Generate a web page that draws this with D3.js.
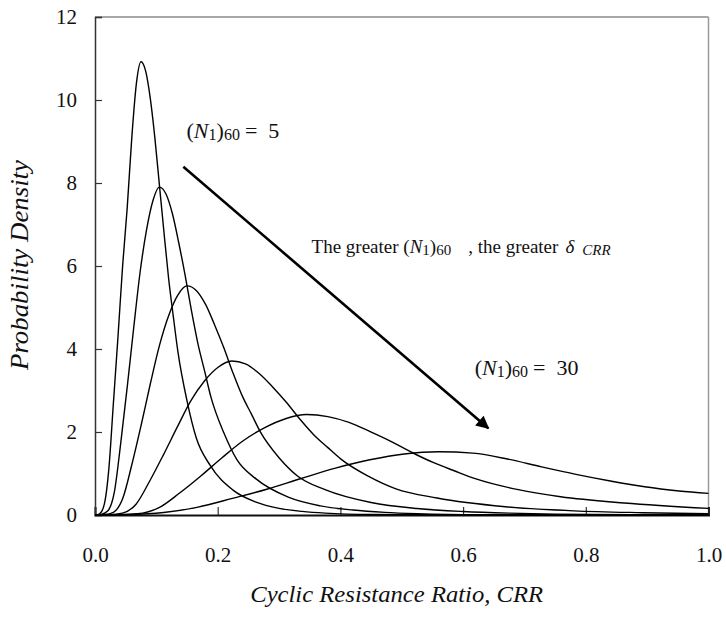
<!DOCTYPE html>
<html>
<head>
<meta charset="utf-8">
<script src="https://cdn.jsdelivr.net/npm/d3@7"></script>
<style>
  html, body { margin: 0; padding: 0; background: #fff; }
  svg { display: block; }
</style>
</head>
<body>
<svg id="chart" width="726" height="617"></svg>
<script>
// (N1)60 levels of the six density curves
const sptLevels = [5, 10, 15, 20, 25, 30];

// Probability density of CRR for each (N1)60 level: [CRR, density]
const pdfN5 = [[0,0],[0.0075,0.03],[0.015,0.25],[0.0225,1.1],[0.03,2.7],[0.0375,4.3],[0.045,6.0],[0.0525,7.4],[0.06,9.1],[0.0675,10.4],[0.075,10.92],[0.0825,10.7],[0.09,10.05],[0.0975,9.1],[0.105,7.95],[0.1125,6.8],[0.12,5.7],[0.1275,4.8],[0.135,3.95],[0.15,2.75],[0.165,1.86],[0.1875,1.2],[0.225,0.6],[0.2625,0.31],[0.3,0.16],[0.3375,0.087],[0.375,0.044],[0.45,0.011],[0.6,0.002],[1.0,0]];
const pdfN10 = [[0,0],[0.0105,0.016],[0.021,0.1],[0.0315,0.55],[0.042,1.74],[0.0525,3.08],[0.063,4.5],[0.0735,5.85],[0.084,6.87],[0.0945,7.58],[0.105,7.9],[0.1155,7.74],[0.126,7.27],[0.1365,6.56],[0.147,5.77],[0.1575,4.9],[0.168,4.11],[0.1785,3.48],[0.189,2.84],[0.21,1.98],[0.231,1.34],[0.2625,0.87],[0.315,0.43],[0.3675,0.22],[0.42,0.12],[0.4725,0.063],[0.525,0.032],[0.63,0.008],[1.0,0]];
const pdfN15 = [[0,0],[0.015,0.011],[0.03,0.066],[0.045,0.39],[0.06,1.21],[0.075,2.15],[0.09,3.15],[0.105,4.08],[0.12,4.8],[0.135,5.3],[0.15,5.52],[0.165,5.41],[0.18,5.08],[0.195,4.58],[0.21,4.03],[0.225,3.42],[0.24,2.87],[0.255,2.43],[0.27,1.99],[0.30,1.38],[0.33,0.94],[0.375,0.61],[0.45,0.30],[0.525,0.155],[0.60,0.083],[0.675,0.044],[0.75,0.022],[0.90,0.006],[1.0,0.002]];
const pdfN20 = [[0,0],[0.0223,0.007],[0.0446,0.045],[0.0669,0.26],[0.0892,0.82],[0.1115,1.45],[0.1338,2.11],[0.1561,2.75],[0.1784,3.23],[0.2007,3.56],[0.223,3.71],[0.2453,3.64],[0.2676,3.41],[0.2899,3.08],[0.3122,2.71],[0.3345,2.30],[0.3568,1.93],[0.3791,1.63],[0.4014,1.34],[0.446,0.93],[0.4906,0.63],[0.5575,0.41],[0.669,0.20],[0.7805,0.10],[0.892,0.056],[1.0,0.03]];
const pdfN25 = [[0,0],[0.0345,0.005],[0.069,0.029],[0.1035,0.17],[0.138,0.53],[0.1725,0.94],[0.207,1.38],[0.2415,1.79],[0.276,2.1],[0.3105,2.32],[0.345,2.42],[0.3795,2.37],[0.414,2.23],[0.4485,2.01],[0.483,1.77],[0.5175,1.5],[0.552,1.26],[0.5865,1.06],[0.621,0.87],[0.69,0.61],[0.759,0.44],[0.8625,0.29],[1.0,0.16]];
const pdfN30 = [[0,0],[0.056,0.01],[0.112,0.06],[0.168,0.19],[0.224,0.40],[0.28,0.62],[0.336,0.88],[0.392,1.13],[0.448,1.33],[0.504,1.47],[0.56,1.525],[0.616,1.49],[0.672,1.35],[0.728,1.16],[0.784,0.98],[0.84,0.82],[0.896,0.68],[0.952,0.58],[1.0,0.52]];

// Axis ticks
const crrTicks = [0, 0.2, 0.4, 0.6, 0.8, 1.0];
const densityTicks = [0, 2, 4, 6, 8, 10, 12];

// Annotation anchors in data units: [CRR, density]
const arrowFrom = [0.144, 8.39];
const arrowTo = [0.641, 2.09];
const labelLow = [0.1492, 9.08];
const labelHigh = [0.619, 3.37];
const trendNote = [0.353, 6.31];

const series = [pdfN5, pdfN10, pdfN15, pdfN20, pdfN25, pdfN30];
const serif = "Liberation Serif";

const svg = d3.select("#chart");
const x = d3.scaleLinear().domain([0, 1]).range([95, 708.5]);
const y = d3.scaleLinear().domain([0, 12]).range([515, 17]);

// Frame: light top/right edges
svg.append("line").attr("x1", x(0)).attr("x2", x(1)).attr("y1", y(12)).attr("y2", y(12))
  .attr("stroke", "#8a8a8a").attr("stroke-width", 1.5);
svg.append("line").attr("x1", x(1)).attr("x2", x(1)).attr("y1", y(12)).attr("y2", y(0))
  .attr("stroke", "#9a9a9a").attr("stroke-width", 1.5);

// Y axis with inward ticks
const yAxis = d3.axisLeft(y).tickValues(densityTicks).tickSize(-7).tickPadding(18)
  .tickFormat(d3.format("d"));
const gy = svg.append("g").attr("transform", `translate(${x(0)},0)`).call(yAxis)
  .attr("font-family", null).attr("font-size", null);
gy.select(".domain").attr("stroke", "#333").attr("stroke-width", 1.5);
gy.selectAll(".tick line").attr("stroke", "#333").attr("stroke-width", 1.2);
gy.selectAll(".tick text").style("font-family", serif).style("font-size", "21px").attr("fill", "#111");

// X axis with inward ticks
const xAxis = d3.axisBottom(x).tickValues(crrTicks).tickSize(-8).tickPadding(32)
  .tickFormat(d3.format(".1f"));
const gx = svg.append("g").attr("transform", `translate(0,${y(0)})`).call(xAxis)
  .attr("font-family", null).attr("font-size", null);
gx.select(".domain").attr("stroke", "#111").attr("stroke-width", 2);
gx.selectAll(".tick line").attr("stroke", "#333").attr("stroke-width", 1.2);
gx.selectAll(".tick text").style("font-family", serif).style("font-size", "21px").attr("fill", "#111");

// Density curves
const line = d3.line().x(d => x(d[0])).y(d => y(d[1])).curve(d3.curveMonotoneX);
svg.append("g").selectAll("path").data(series).join("path")
  .attr("d", line).attr("fill", "none").attr("stroke", "#000").attr("stroke-width", 1.4);

// Trend arrow
svg.append("defs").append("marker")
  .attr("id", "head").attr("viewBox", "0 0 10 10").attr("refX", 9).attr("refY", 5)
  .attr("markerWidth", 5.4).attr("markerHeight", 5).attr("orient", "auto")
  .attr("markerUnits", "strokeWidth")
  .append("path").attr("d", "M0,0 L10,5 L0,10 z").attr("fill", "#000");
svg.append("line")
  .attr("x1", x(arrowFrom[0])).attr("y1", y(arrowFrom[1]))
  .attr("x2", x(arrowTo[0])).attr("y2", y(arrowTo[1]))
  .attr("stroke", "#000").attr("stroke-width", 2.6).attr("marker-end", "url(#head)");

// (N1)60 label helper
function sptLabel(pos, value) {
  const t = svg.append("text").attr("x", x(pos[0])).attr("y", y(pos[1]))
    .style("font-family", serif).style("font-size", "22px").attr("fill", "#111");
  t.append("tspan").text("(");
  t.append("tspan").style("font-style", "italic").text("N");
  t.append("tspan").style("font-size", "16px").attr("dy", 2).text("1");
  t.append("tspan").attr("dy", -2).text(")");
  t.append("tspan").style("font-size", "16px").attr("dy", 2).text("60");
  t.append("tspan").attr("dy", -2).attr("dx", 5).text("=");
  t.append("tspan").attr("dx", 11).text(value);
}
sptLabel(labelLow, sptLevels[0]);
sptLabel(labelHigh, sptLevels[sptLevels.length - 1]);

// Trend note
const note = svg.append("text").attr("x", x(trendNote[0])).attr("y", y(trendNote[1]))
  .style("font-family", serif).style("font-size", "19px").attr("fill", "#111");
note.append("tspan").text("The greater (");
note.append("tspan").style("font-style", "italic").text("N");
note.append("tspan").style("font-size", "15px").attr("dy", 2).text("1");
note.append("tspan").attr("dy", -2).text(")");
note.append("tspan").style("font-size", "15px").attr("dy", 2).text("60");
note.append("tspan").attr("dy", -2).attr("dx", 17).text(", the greater");
note.append("tspan").attr("dx", 7).style("font-style", "italic").text("δ");
note.append("tspan").attr("dx", 8).attr("dy", 2).style("font-size", "15px").style("font-style", "italic").text("CRR");

// Axis titles
svg.append("text").attr("transform", "translate(28,265) rotate(-90)")
  .style("font-family", serif).style("font-style", "italic").style("font-size", "25px")
  .attr("text-anchor", "middle")
  .attr("textLength", 210).attr("lengthAdjust", "spacingAndGlyphs").attr("fill", "#111")
  .text("Probability Density");
svg.append("text").attr("x", 396.7).attr("y", 602)
  .style("font-family", serif).style("font-style", "italic").style("font-size", "24px")
  .attr("text-anchor", "middle")
  .attr("textLength", 293).attr("lengthAdjust", "spacingAndGlyphs").attr("fill", "#111")
  .text("Cyclic Resistance Ratio, CRR");
</script>
</body>
</html>
